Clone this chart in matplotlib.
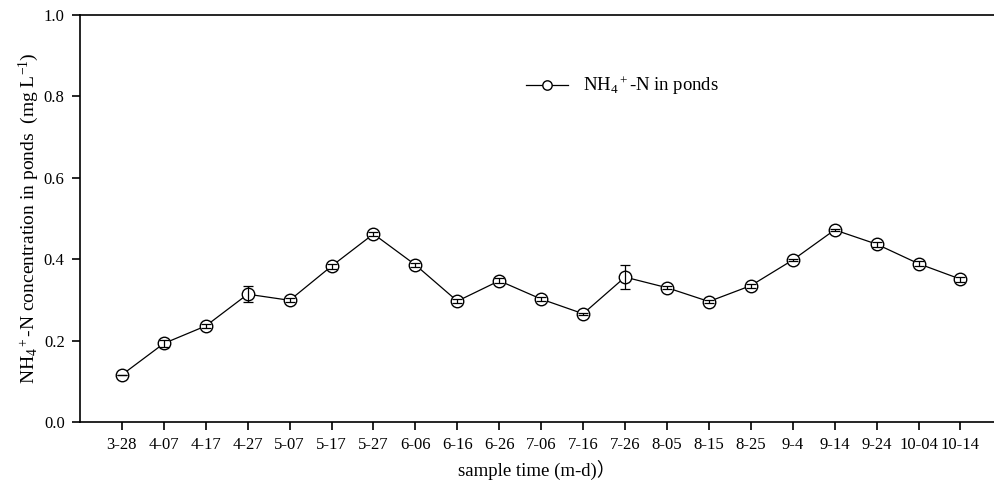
import numpy as np
import matplotlib
matplotlib.use('Agg')
import matplotlib.pyplot as plt

plt.rcParams['font.family'] = ['Liberation Serif', 'Noto Sans CJK SC', 'DejaVu Sans']
plt.rcParams['mathtext.fontset'] = 'custom'
plt.rcParams['mathtext.rm'] = 'Liberation Serif'
plt.rcParams['mathtext.it'] = 'Liberation Serif:italic'

dates = ['3-28', '4-07', '4-17', '4-27', '5-07', '5-17', '5-27', '6-06', '6-16', '6-26', '7-06',
         '7-16', '7-26', '8-05', '8-15', '8-25', '9-4', '9-14', '9-24', '10-04', '10-14']
nh4 = [0.116, 0.193, 0.236, 0.314, 0.299, 0.383, 0.462, 0.386, 0.297, 0.347, 0.302,
       0.266, 0.356, 0.330, 0.296, 0.335, 0.398, 0.472, 0.437, 0.389, 0.351]
err = [0.0, 0.008, 0.005, 0.020, 0.005, 0.006, 0.006, 0.005, 0.004, 0.006, 0.005,
       0.003, 0.029, 0.003, 0.003, 0.005, 0.002, 0.002, 0.006, 0.006, 0.006]

x = np.arange(len(dates))

fig = plt.figure(figsize=(9.94, 4.87), dpi=100)
ax = fig.add_axes([80/994, 1-422/487, 1-80/994, (422-15)/487])

ax.plot(x, nh4, color='black', lw=0.9, marker='o', markersize=9,
        markerfacecolor='white', markeredgecolor='black', markeredgewidth=1,
        label=r'NH$_4{}^+$-N in ponds', zorder=2)
ax.errorbar(x, nh4, yerr=err, fmt='none', ecolor='black', elinewidth=0.9,
            capsize=3.5, capthick=0.9, zorder=3)

ax.set_xlim(-1, 20.8)
ax.set_ylim(0, 1.0)
ax.set_yticks([0.0, 0.2, 0.4, 0.6, 0.8, 1.0])
ax.set_yticklabels(['0.0', '0.2', '0.4', '0.6', '0.8', '1.0'])
ax.set_xticks(x)
ax.set_xticklabels(dates)
ax.tick_params(direction='out', length=6, width=1.2, labelsize=12, pad=5)
ax.spines['right'].set_visible(False)
for s in ['left', 'bottom', 'top']:
    ax.spines[s].set_linewidth(1.2)

ax.set_xlabel('sample time (m-d)）', fontsize=13.5, labelpad=5)
ax.set_ylabel(r'NH$_4{}^+$-N concentration in ponds  (mg L$^{-1}$)', fontsize=14, labelpad=2)

leg = ax.legend(loc='upper left', bbox_to_anchor=(0.47, 0.895), frameon=False,
                fontsize=13.5, handlelength=2.2, markerscale=0.75)

fig.savefig('out.png', dpi=100)
